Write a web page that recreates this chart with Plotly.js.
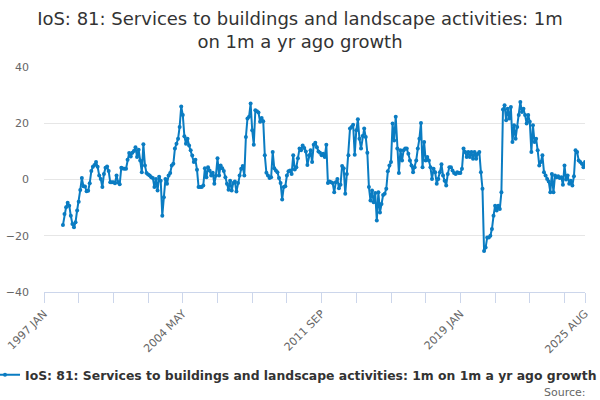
<!DOCTYPE html>
<html>
<head>
<meta charset="utf-8">
<script src="https://cdn.plot.ly/plotly-3.0.1.min.js"></script>
<style>
  html, body { margin: 0; padding: 0; background: #fff; }
  #chart { width: 600px; height: 400px; }
</style>
</head>
<body>
<div id="chart"></div>
<script>
// monthly categories 1997 JAN .. 2025 AUG
var firstYear = 1997
var lastYear = 2025
var lastMonth = 8
var monthNames = ["JAN", "FEB", "MAR", "APR", "MAY", "JUN", "JUL", "AUG", "SEP", "OCT", "NOV", "DEC"]

// growth starts 1998 JAN (first 12 months have no yr-ago value)
var leadingBlanks = 12

// 1m on 1m a yr ago growth, %
var growth = [
  -16.2, -12.3, -9.9, -8.3, -9.3, -12.9, -15.8, -17, -15.2, -11, -7.9, -3.7,
  0.5, -2.4, -2.5, -4.2, -4, -1.3, 3, 4.5, 5.2, 6.2, 4.5, 1.4,
  0.2, -2.7, 2, 4.2, 4.6, 3, -1, -1, -1, -1.3, 1.4, -1,
  -1.7, 4.2, 3.9, 3.8, 3.8, 7, 9.4, 8.2, 9.5, 10.1, 11.5, 8,
  10.6, 6.8, 2.6, 12.5, 5, 2.3, 1.8, 1.4, 0.8, 0.5, -2.7, 0.2,
  -3.9, 1, -0.4, -12.9, -6.3, 0.2, -1.5, 1.4, 2.3, 5, 5.6, 11,
  12.7, 14.5, 18.7, 26, 22.9, 15.4, 12.7, 14.5, 12.1, 10.4, 8.5, 6.2,
  7, 3.5, -2.7, -2.7, -2.7, -2.1, 4, 0.8, 4.4, 3.2, 1.4, 2.4,
  -1.5, 1.4, 7.6, 1.4, 5, 4, 3, 0.8, -1.5, -3.6, -0.4, -3.9,
  -1.2, -0.7, -4.3, -1.2, 1.4, 3.8, 4.8, 1.4, 15.1, 21.7, 22.3, 27,
  17.5, 12.4, 24.6, 24.3, 23.8, 20.5, 21.9, 20.7, 8.6, 2.4, 1.4, 0.5,
  0.8, 9.8, 4, 3.2, 2.6, 0.5, -1.2, -7.1, -2.7, -2.4, 1.4, 2.9,
  3.2, 2, 8.6, 3.6, 4.4, 7.6, 11, 10.4, 12.1, 11.2, 10, 5.2,
  8.6, 10.4, 6.2, 12.4, 13.1, 11.5, 10, 9.5, 8.6, 9.2, 8, 12.4,
  -1.2, -0.7, -1, -1.2, -4.5, -1, 0.2, -3.1, -1.9, 4.8, 4, -5.1,
  2, 8.6, 18.1, 18.7, 19.5, 8.8, 17.5, 21.4, 14.5, 11, 15.5, 18.1,
  15.1, 9.5, -2.7, -7.5, -3.9, -8.1, -4.8, -14.6, -4.5, -11.7, -8.7, -5.5,
  -5.1, -3.3, 2.9, 5, 6.2, 19.9, 13.9, 22.3, 11, 2.3, 10.4, 6.8,
  10.4, 11, 11, 9.2, 6.8, 5, 2.6, 4.4, 6.8, 11, 14.5, 20.1,
  4.4, 13.3, 6.8, 8, 6.8, 4.4, 0.2, 3.8, 2.6, -1.5, 0.2, 2.6,
  5.4, 1.4, -0.4, -2.1, 2, 4.4, 4.4, 3.2, 2.3, 2, 2.6, 2.3,
  2.3, 3.8, 11, 9.8, 8, 9.8, 8, 9.8, 7.4, 9.8, 7.4, 9.2,
  9.8, 2.6, -3.3, -25.4, -24.2, -20.6, -20.6, -20, -17.6, -12.9, -9.3, -11,
  -9.3, -10.5, -4.5, 24.9, 26.4, 21.1, 25.2, 21.7, 25.8, 13.3, 19.3, 14.5,
  18.7, 22.9, 27.6, 24, 25.2, 22.9, 19.9, 22.9, 20.5, 9.8, 19.3, 13.3,
  14.5, 10.4, 5, 6.2, 8.6, 2.6, 1.4, 0.2, -0.7, -4.5, 2, -4.5,
  1.4, 0.8, 1.2, 0.5, 0.8, -1.9, 5, 0, 1.4, -1.5, -0.4, -2.1,
  1.2, 10.4, 9.8, 6.8, 6.2, 5.6, 4.4, 6.2, 7.5, 8.3
]

var seriesName = "IoS: 81: Services to buildings and landscape activities: 1m on 1m a yr ago growth"
var chartTitle = "IoS: 81: Services to buildings and landscape activities: 1m<br>on 1m a yr ago growth"

// tick every 22 months, label every 88
var tickStep = 22
var labelStep = 88

var cats = []
for (var y = firstYear; y <= lastYear; y++) {
  for (var m = 0; m < 12; m++) {
    if (y == lastYear && m >= lastMonth) break
    cats.push(y + " " + monthNames[m])
  }
}

var yvals = []
for (var i = 0; i < cats.length; i++) {
  var k = i - leadingBlanks
  yvals.push(k >= 0 && k < growth.length ? growth[k] : null)
}

var tickvals = [], ticktext = []
for (var i = 0; i < cats.length; i += tickStep) {
  tickvals.push(cats[i])
  ticktext.push(i % labelStep == 0 ? cats[i] : "")
}
var lastCat = cats[cats.length - 1]
if (tickvals[tickvals.length - 1] != lastCat) {
  tickvals.push(lastCat)
  ticktext.push(lastCat)
}

var blue = "#0a7cc2"

var trace = {
  x: cats,
  y: yvals,
  name: seriesName,
  mode: "lines+markers",
  line: {color: blue, width: 2},
  marker: {color: blue, size: 4},
  connectgaps: false,
  showlegend: true
}

var layout = {
  width: 600,
  height: 400,
  font: {family: "DejaVu Sans", color: "#333"},
  paper_bgcolor: "#fff",
  plot_bgcolor: "#fff",
  margin: {l: 44, r: 15, t: 67, b: 108, autoexpand: false},
  title: {
    text: chartTitle,
    font: {family: "DejaVu Sans", size: 18, color: "#333"},
    x: 0.5, xanchor: "center",
    y: 0.938, yanchor: "middle", yref: "container"
  },
  xaxis: {
    type: "category",
    range: [0, cats.length - 1],
    tickmode: "array",
    tickvals: tickvals,
    ticktext: ticktext,
    tickangle: -45,
    ticks: "outside",
    ticklen: 10,
    tickcolor: "#ccd6eb",
    showline: true,
    linecolor: "#ccd6eb",
    linewidth: 1,
    showgrid: false,
    zeroline: false,
    tickfont: {family: "DejaVu Sans", size: 11, color: "#666"},
    automargin: false
  },
  yaxis: {
    range: [-40, 40],
    dtick: 20,
    tick0: 0,
    showgrid: true,
    gridcolor: "#e6e6e6",
    zeroline: false,
    showline: false,
    ticks: "",
    ticklabelstandoff: 14,
    tickfont: {family: "DejaVu Sans", size: 11, color: "#666"},
    automargin: false
  },
  showlegend: true,
  legend: {
    orientation: "h",
    xref: "paper", yref: "paper",
    x: -0.109, xanchor: "left",
    y: -0.37, yanchor: "middle",
    font: {family: "DejaVu Sans", size: 12.4, color: "#333", weight: "bold"},
    itemwidth: 30
  },
  annotations: [{
    text: "Source:",
    xref: "paper", yref: "paper",
    x: 1.005, y: -0.446,
    xanchor: "right", yanchor: "middle",
    showarrow: false,
    font: {family: "DejaVu Sans", size: 11, color: "#666"}
  }]
}

Plotly.newPlot("chart", [trace], layout, {displayModeBar: false, staticPlot: true})
</script>
</body>
</html>
